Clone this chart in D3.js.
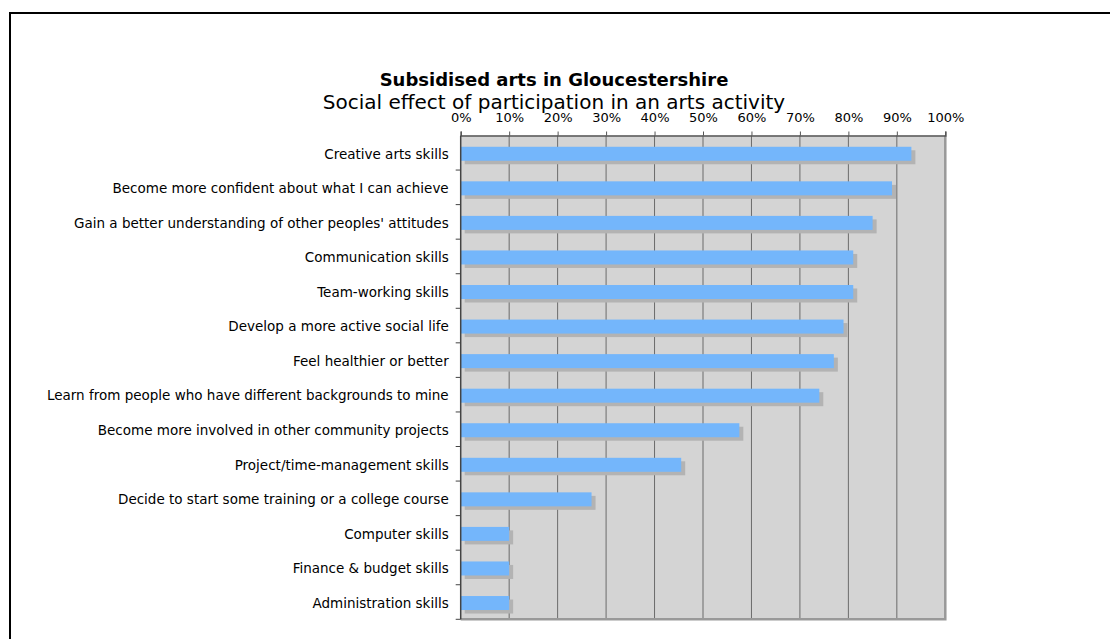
<!DOCTYPE html>
<html>
<head>
<meta charset="utf-8">
<script src="https://cdn.jsdelivr.net/npm/d3@7"></script>
<style>
  body { margin: 0; background: #fff; }
  svg { display: block; font-family: "DejaVu Sans", Verdana, sans-serif; }
</style>
</head>
<body>
<div id="chart"></div>
<script>
// data
var categories = [
  "Creative arts skills",
  "Become more confident about what I can achieve",
  "Gain a better understanding of other peoples' attitudes",
  "Communication skills",
  "Team-working skills",
  "Develop a more active social life",
  "Feel healthier or better",
  "Learn from people who have different backgrounds to mine",
  "Become more involved in other community projects",
  "Project/time-management skills",
  "Decide to start some training or a college course",
  "Computer skills",
  "Finance & budget skills",
  "Administration skills"
]
var values = [93, 89, 85, 81, 81, 79, 77, 74, 57.5, 45.5, 27, 10, 10, 10]
var tickValues = [0, 10, 20, 30, 40, 50, 60, 70, 80, 90, 100]

var w = 1110, h = 639
var margin = {top: 135.5, right: 1110 - 945.3, bottom: 639 - 619.3, left: 460.7}

var svg = d3.select("#chart")
	.append("svg")
	.attr("width", w)
	.attr("height", h)

// outer frame
svg.append("rect")
	.attr("x", 10).attr("y", 13)
	.attr("width", w).attr("height", h)
	.attr("fill", "none")
	.attr("stroke", "#000")
	.attr("stroke-width", 2)

// titles
svg.append("text")
	.attr("x", 554).attr("y", 86)
	.attr("text-anchor", "middle")
	.style("font-size", "18px")
	.style("font-weight", "bold")
	.text("Subsidised arts in Gloucestershire")

svg.append("text")
	.attr("x", 554).attr("y", 109)
	.attr("text-anchor", "middle")
	.style("font-size", "20px")
	.text("Social effect of participation in an arts activity")

var x = d3.scaleLinear()
	.domain([0, 100])
	.range([margin.left, w - margin.right])

var y = d3.scaleBand()
	.domain(categories)
	.range([margin.top, h - margin.bottom])

var barH = 14

// plot background
svg.append("rect")
	.attr("x", x(0)).attr("y", y.range()[0])
	.attr("width", x(100) - x(0))
	.attr("height", y.range()[1] - y.range()[0])
	.attr("fill", "#d4d4d4")

// gridlines
svg.append("g")
	.selectAll("line")
	.data(tickValues.slice(1, -1))
	.enter().append("line")
	.attr("x1", d => x(d)).attr("x2", d => x(d))
	.attr("y1", y.range()[0]).attr("y2", y.range()[1])
	.attr("stroke", "#6b6b6b")
	.attr("stroke-width", 1)

// right and bottom edge
svg.append("path")
	.attr("d", "M" + x(100) + "," + y.range()[0] + "V" + y.range()[1] + "H" + x(0))
	.attr("fill", "none")
	.attr("stroke", "#999")
	.attr("stroke-width", 2.5)

var barY = d => y(d) + (y.bandwidth() - barH) / 2 + 1

// shadows
svg.append("g")
	.selectAll("rect")
	.data(categories)
	.enter().append("rect")
	.attr("x", x(0) + 4)
	.attr("y", d => barY(d) + 3.5)
	.attr("width", (d, i) => x(values[i]) - x(0))
	.attr("height", barH)
	.attr("fill", "#b3b3b3")

// bars
svg.append("g")
	.selectAll("rect")
	.data(categories)
	.enter().append("rect")
	.attr("x", x(0))
	.attr("y", d => barY(d))
	.attr("width", (d, i) => x(values[i]) - x(0))
	.attr("height", barH)
	.attr("fill", "#74b6fb")

// top axis
var xAxis = d3.axisTop(x)
	.tickValues(tickValues)
	.tickFormat(d => d + "%")
	.tickSize(4)
	.tickPadding(10)

var gx = svg.append("g")
	.attr("transform", "translate(0," + margin.top + ")")
	.call(xAxis)
gx.select(".domain").attr("stroke", "#555").attr("stroke-width", 1.5)
gx.selectAll(".tick line").attr("stroke", "#555")
gx.selectAll("text")
	.style("font-family", "DejaVu Sans, Verdana, sans-serif")
	.style("font-size", "13px")
	.attr("fill", "#000")

// left axis, ticks at band edges
var gy = svg.append("g")
gy.append("line")
	.attr("x1", x(0)).attr("x2", x(0))
	.attr("y1", y.range()[0]).attr("y2", y.range()[1])
	.attr("stroke", "#444").attr("stroke-width", 1.5)
gy.selectAll("line.tk")
	.data(categories.slice(1).concat([null]))
	.enter().append("line")
	.attr("class", "tk")
	.attr("x1", x(0) - 5).attr("x2", x(0))
	.attr("y1", d => d ? y(d) : y.range()[1])
	.attr("y2", d => d ? y(d) : y.range()[1])
	.attr("stroke", "#444")

gy.selectAll("text")
	.data(categories)
	.enter().append("text")
	.attr("x", x(0) - 12)
	.attr("y", d => barY(d) + barH / 2)
	.attr("dy", "0.35em")
	.attr("text-anchor", "end")
	.style("font-size", "13.5px")
	.text(d => d)
</script>
</body>
</html>
